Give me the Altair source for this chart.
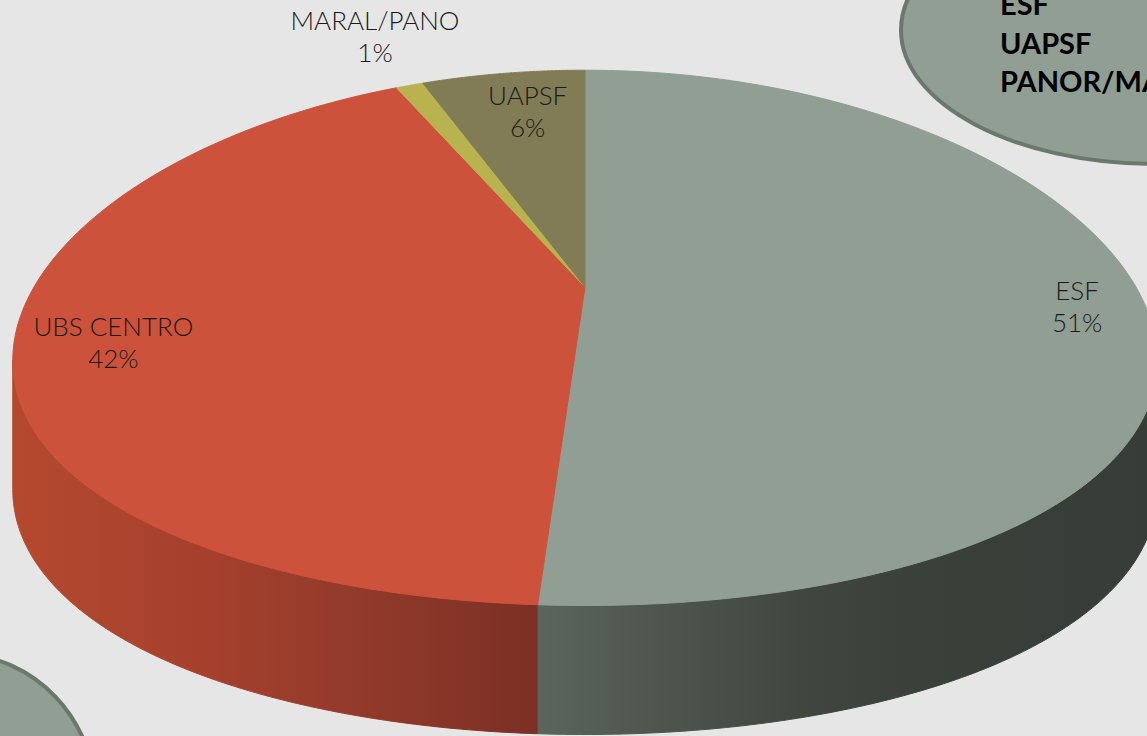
import altair as alt
import pandas as pd

# ---------------- data ----------------
categories = ["ESF", "UBS CENTRO", "MARAL/PANO", "UAPSF"]
values = [51, 42, 1, 6]
slice_colors = ["#919e94", "#cc523c", "#b8b34f", "#817c55"]
box_lines = ["ESF", "UAPSF", "PANOR/MARAL"]

# ---------------- geometry (3-D pie, perspective) ----------------
W, H = 1147, 736
CX, CY = 585, 287
RX, RY = 551, 258
PX_P, PY_P = 0.27, 0.19
DEPTH = 129
N = 120

df = pd.DataFrame({"cat": categories, "value": values, "k": list(range(len(categories)))})

xs = alt.Scale(domain=[0, W], nice=False, zero=False)
ys = alt.Scale(domain=[0, H], nice=False, zero=False, reverse=True)

PX = f"{CX} + {RX}*datum.r*sin(datum.t)/(1 + {PX_P}*datum.r*cos(datum.t))"
PY = f"{CY} - {RY}*datum.r*cos(datum.t)/(1 + {PY_P}*datum.r*cos(datum.t))"

base = (
    alt.Chart(df)
    .transform_joinaggregate(total="sum(value)")
    .transform_window(cum="sum(value)", sort=[alt.SortField("k", order="ascending")], frame=[None, 0])
    .transform_calculate(t0="2*PI*(datum.cum - datum.value)/datum.total")
    .transform_calculate(t1="2*PI*datum.cum/datum.total")
)

enc_xy = dict(
    x=alt.X("px:Q", scale=xs, axis=None),
    y=alt.Y("py:Q", scale=ys, axis=None),
    order=alt.Order("idx:Q"),
    detail="cat:N",
)

# top faces
top = (
    base.transform_calculate(idx=f"sequence(0, {N + 2})")
    .transform_flatten(["idx"])
    .transform_calculate(r=f"(datum.idx == 0 || datum.idx == {N + 1}) ? 0 : 1")
    .transform_calculate(t=f"datum.t0 + (datum.t1 - datum.t0) * clamp((datum.idx - 1) / {N - 1}, 0, 1)")
    .transform_calculate(px=PX)
    .transform_calculate(py=PY)
    .mark_line(filled=True, strokeWidth=1, strokeJoin="round")
    .encode(
        fill=alt.Fill("cat:N", scale=alt.Scale(domain=categories, range=slice_colors), legend=None),
        stroke=alt.Stroke("cat:N", scale=alt.Scale(domain=categories, range=slice_colors), legend=None),
        **enc_xy,
    )
)

# side walls (front, visible part only)
LO = f"acos(-{PX_P})"
HI = f"(2*PI - acos(-{PX_P}))"
walls = (
    base.transform_calculate(a=f"max(datum.t0, {LO})")
    .transform_calculate(b=f"min(datum.t1, {HI})")
    .transform_filter("datum.a < datum.b")
    .transform_calculate(idx=f"sequence(0, {2 * N})")
    .transform_flatten(["idx"])
    .transform_calculate(u=f"datum.idx < {N} ? datum.idx/{N - 1} : ({2 * N - 1} - datum.idx)/{N - 1}")
    .transform_calculate(dz=f"datum.idx < {N} ? 0 : {DEPTH}")
    .transform_calculate(t="datum.a + (datum.b - datum.a)*datum.u")
    .transform_calculate(r="1")
    .transform_calculate(px=PX)
    .transform_calculate(py=PY + " + datum.dz")
)


def grad(stops):
    return alt.Gradient(
        gradient="linear", x1=0, x2=1, y1=0, y2=0,
        stops=[alt.GradientStop(offset=o, color=c) for o, c in stops],
    )


esf_grad = grad([(0, "#5c655d"), (0.2, "#4d554e"), (0.43, "#40473f"), (0.6, "#3a403a"), (1, "#363c37")])
ubs_grad = grad([(0, "#b5492f"), (0.37, "#a5402d"), (0.66, "#923a2b"), (1, "#7c2f25")])

wall_esf = walls.transform_filter(f"datum.cat == '{categories[0]}'").mark_line(
    filled=True, fill=esf_grad, stroke=esf_grad, strokeWidth=1
).encode(**enc_xy)
wall_ubs = walls.transform_filter(f"datum.cat == '{categories[1]}'").mark_line(
    filled=True, fill=ubs_grad, stroke=ubs_grad, strokeWidth=1
).encode(**enc_xy)

# slice labels
labels = (
    base.transform_calculate(t="(datum.t0 + datum.t1)/2")
    .transform_calculate(r="datum.value/datum.total < 0.03 ? 1.38 : 0.86")
    .transform_calculate(label="datum.cat + '\\n' + format(datum.value/datum.total, '.0%')")
    .transform_calculate(px=PX)
    .transform_calculate(py=PY)
    .mark_text(font="Lato", fontWeight=300, fontSize=26, lineBreak="\n", lineHeight=32,
               color="#1a1a1a", align="center", baseline="middle", dx=15, dy=-2)
    .encode(
        x=alt.X("px:Q", scale=xs, axis=None),
        y=alt.Y("py:Q", scale=ys, axis=None),
        text="label:N",
    )
)

# slide decorations (ellipses + box text)
deco = alt.Chart(pd.DataFrame({"d": [0]}))
path_tr = "M -1 0 A 1 0.527 0 1 0 1 0 A 1 0.527 0 1 0 -1 0 Z"
path_bl = "M -1 0 A 1 1.057 0 1 0 1 0 A 1 1.057 0 1 0 -1 0 Z"
ell_tr = deco.mark_point(shape=path_tr, size=(2 * 254) ** 2, filled=True, fill="#919e94",
                         stroke="#6b786c", strokeWidth=4, opacity=1).encode(x=alt.value(1155), y=alt.value(30))
ell_bl = deco.mark_point(shape=path_bl, size=(2 * 138) ** 2, filled=True, fill="#919e94",
                         stroke="#6b786c", strokeWidth=4, opacity=1).encode(x=alt.value(-42), y=alt.value(800))
box_text = deco.transform_calculate(txt="'" + "\\n".join(box_lines) + "'").mark_text(
    font="Lato", fontWeight="bold", fontSize=29, lineBreak="\n", lineHeight=38.5,
    align="left", baseline="alphabetic", color="#000000"
).encode(x=alt.value(1000), y=alt.value(15), text="txt:N")

chart = alt.layer(ell_tr, ell_bl, wall_esf, wall_ubs, top, labels, box_text).properties(
    width=W, height=H, padding=0,
    autosize=alt.AutoSizeParams(type="none"),
    background="#e6e6e6",
).configure_view(strokeWidth=0)

chart.save("out.html", embed_options={"renderer": "svg", "actions": False})
